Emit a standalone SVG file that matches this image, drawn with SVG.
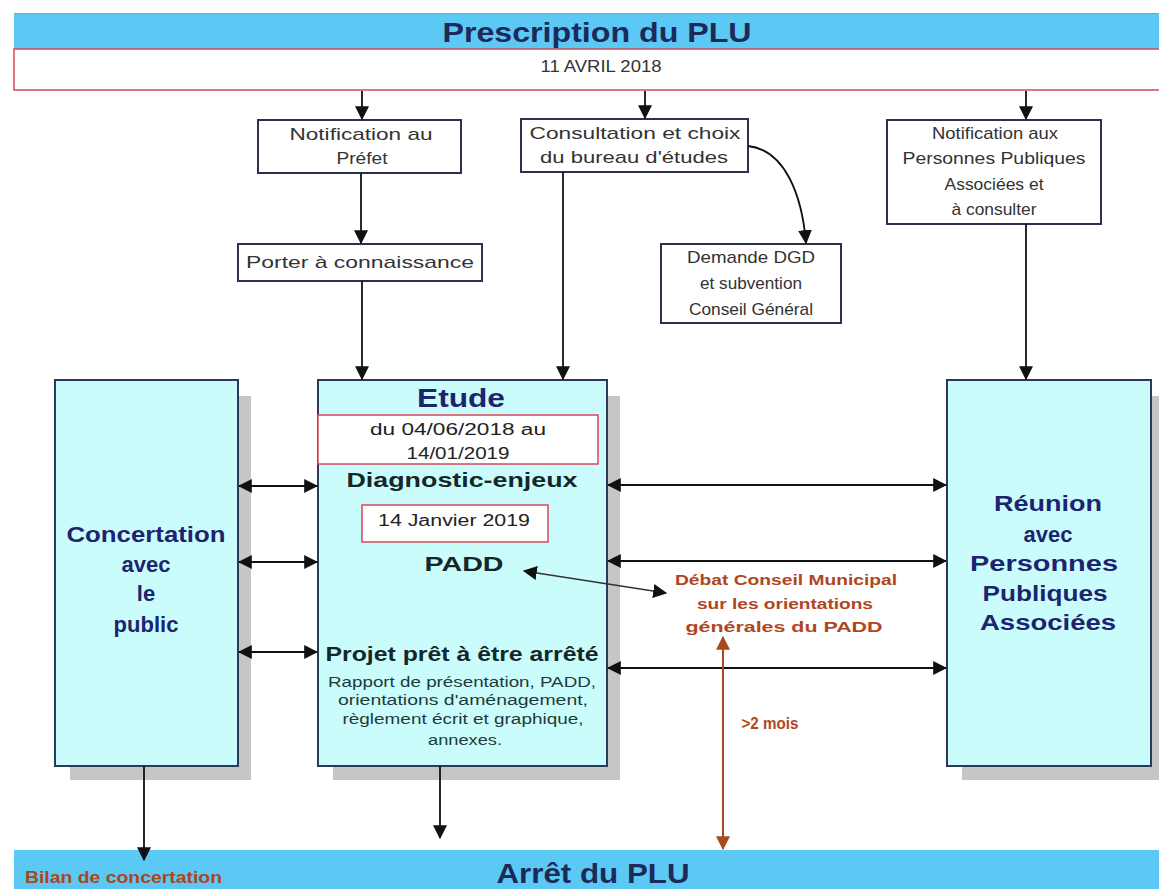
<svg xmlns="http://www.w3.org/2000/svg" width="1159" height="889" viewBox="0 0 1159 889">
<style>
  .band{fill:#5cc8f4;}
  .redbox{fill:#ffffff;stroke:#d24a5a;stroke-width:1.5;}
  .small{fill:#ffffff;stroke:#2e2e4e;stroke-width:2;}
  .big{fill:#cbfcfc;stroke:#2c3a5a;stroke-width:2;}
  .shadow{fill:#c6c6c9;}
  .t{font-family:"Liberation Sans",Arial,sans-serif;text-anchor:middle;}
  .st{font-size:17px;fill:#333333;}
  .nav{font-size:22px;font-weight:bold;fill:#1c2470;}
  .dk{font-weight:bold;fill:#14282a;}
  .br{font-weight:bold;fill:#b0461e;}
  .ln{stroke:#111;stroke-width:1.8;fill:none;}
  .lnb{stroke:#a84a20;stroke-width:2;fill:none;}
</style>
<defs>
  <marker id="ah" viewBox="0 0 12 12" refX="11" refY="6" markerWidth="14" markerHeight="14" markerUnits="userSpaceOnUse" orient="auto-start-reverse">
    <path d="M0,0 L12,6 L0,12 z" fill="#111"/>
  </marker>
  <marker id="ahb" viewBox="0 0 12 12" refX="11" refY="6" markerWidth="14" markerHeight="14" markerUnits="userSpaceOnUse" orient="auto-start-reverse">
    <path d="M0,0 L12,6 L0,12 z" fill="#a84a20"/>
  </marker>
</defs>
<rect width="1159" height="889" fill="#ffffff"/>

<g id="top">
  <rect class="band" x="14" y="13" width="1145" height="36"/>
  <line x1="14" y1="13.5" x2="1159" y2="13.5" stroke="#46bde0" stroke-width="1"/>
  <text class="t" x="597" y="42" font-size="28" font-weight="bold" fill="#1c2a5a" textLength="309" lengthAdjust="spacingAndGlyphs">Prescription du PLU</text>
  <rect class="redbox" x="14" y="49" width="1150" height="41"/>
  <text class="t" x="601" y="72" font-size="17" fill="#333" textLength="121" lengthAdjust="spacingAndGlyphs">11 AVRIL 2018</text>
</g>

<g id="notif-prefet">
  <rect class="small" x="258" y="120" width="203" height="53"/>
  <text class="t st" x="361" y="140" textLength="143" lengthAdjust="spacingAndGlyphs">Notification au</text>
  <text class="t st" x="362" y="164" textLength="51" lengthAdjust="spacingAndGlyphs">Préfet</text>
</g>

<g id="porter">
  <rect class="small" x="238" y="244" width="244" height="37"/>
  <text class="t st" x="360" y="268" textLength="228" lengthAdjust="spacingAndGlyphs">Porter à connaissance</text>
</g>

<g id="consultation">
  <rect class="small" x="521" y="119" width="227" height="53"/>
  <text class="t st" x="635" y="139" textLength="211" lengthAdjust="spacingAndGlyphs">Consultation et choix</text>
  <text class="t st" x="634" y="163" textLength="188" lengthAdjust="spacingAndGlyphs">du bureau d'études</text>
</g>

<g id="demande">
  <rect class="small" x="661" y="244" width="180" height="79"/>
  <text class="t st" x="751" y="263" textLength="128" lengthAdjust="spacingAndGlyphs">Demande DGD</text>
  <text class="t st" x="751" y="289" textLength="102" lengthAdjust="spacingAndGlyphs">et subvention</text>
  <text class="t st" x="751" y="315" textLength="124" lengthAdjust="spacingAndGlyphs">Conseil Général</text>
</g>

<g id="notif-ppa">
  <rect class="small" x="887" y="120" width="214" height="104"/>
  <text class="t st" x="995" y="139" textLength="126" lengthAdjust="spacingAndGlyphs">Notification aux</text>
  <text class="t st" x="994" y="164" textLength="183" lengthAdjust="spacingAndGlyphs">Personnes Publiques</text>
  <text class="t st" x="994" y="190" textLength="99" lengthAdjust="spacingAndGlyphs">Associées et</text>
  <text class="t st" x="994" y="215" textLength="85" lengthAdjust="spacingAndGlyphs">à consulter</text>
</g>

<g id="concertation">
  <rect class="shadow" x="70" y="396" width="181" height="384"/>
  <rect class="big" x="55" y="380" width="183" height="386"/>
  <text class="t nav" x="146" y="542" textLength="159" lengthAdjust="spacingAndGlyphs">Concertation</text>
  <text class="t nav" x="146" y="572">avec</text>
  <text class="t nav" x="146" y="601">le</text>
  <text class="t nav" x="146" y="632">public</text>
</g>

<g id="etude">
  <rect class="shadow" x="333" y="396" width="287" height="384"/>
  <rect class="big" x="318" y="380" width="289" height="386"/>
  <text class="t" x="461" y="407" font-size="25" font-weight="bold" fill="#1c2470" textLength="88" lengthAdjust="spacingAndGlyphs">Etude</text>
  <rect class="redbox" x="318" y="415" width="280" height="49"/>
  <text class="t" x="458" y="435" font-size="16" fill="#222" textLength="176" lengthAdjust="spacingAndGlyphs">du 04/06/2018 au</text>
  <text class="t" x="458" y="459" font-size="16" fill="#222" textLength="103" lengthAdjust="spacingAndGlyphs">14/01/2019</text>
  <text class="t dk" x="462" y="487" font-size="21" textLength="231" lengthAdjust="spacingAndGlyphs">Diagnostic-enjeux</text>
  <rect class="redbox" x="362" y="505" width="186" height="37"/>
  <text class="t" x="454" y="526" font-size="16" fill="#222" textLength="152" lengthAdjust="spacingAndGlyphs">14 Janvier 2019</text>
  <text class="t dk" x="464" y="571" font-size="21" textLength="79" lengthAdjust="spacingAndGlyphs">PADD</text>
  <text class="t dk" x="462" y="661" font-size="21" textLength="273" lengthAdjust="spacingAndGlyphs">Projet prêt à être arrêté</text>
  <text class="t" x="462" y="687" font-size="14" fill="#1e3a3a" textLength="268" lengthAdjust="spacingAndGlyphs">Rapport de présentation, PADD,</text>
  <text class="t" x="463" y="705" font-size="14" fill="#1e3a3a" textLength="250" lengthAdjust="spacingAndGlyphs">orientations d'aménagement,</text>
  <text class="t" x="463" y="724" font-size="14" fill="#1e3a3a" textLength="241" lengthAdjust="spacingAndGlyphs">règlement écrit et graphique,</text>
  <text class="t" x="465" y="745" font-size="14" fill="#1e3a3a" textLength="74" lengthAdjust="spacingAndGlyphs">annexes.</text>
</g>

<g id="reunion">
  <rect class="shadow" x="962" y="396" width="197" height="384"/>
  <rect class="big" x="947" y="380" width="204" height="386"/>
  <text class="t nav" x="1048" y="511" textLength="108" lengthAdjust="spacingAndGlyphs">Réunion</text>
  <text class="t nav" x="1048" y="542">avec</text>
  <text class="t nav" x="1044" y="571" textLength="148" lengthAdjust="spacingAndGlyphs">Personnes</text>
  <text class="t nav" x="1045" y="601" textLength="125" lengthAdjust="spacingAndGlyphs">Publiques</text>
  <text class="t nav" x="1048" y="630" textLength="136" lengthAdjust="spacingAndGlyphs">Associées</text>
</g>

<g id="debat">
  <text class="t br" x="786" y="585" font-size="14" textLength="222" lengthAdjust="spacingAndGlyphs">Débat Conseil Municipal</text>
  <text class="t br" x="785" y="609" font-size="14" textLength="176" lengthAdjust="spacingAndGlyphs">sur les orientations</text>
  <text class="t br" x="784" y="632" font-size="14" textLength="197" lengthAdjust="spacingAndGlyphs">générales du PADD</text>
  <text class="t br" x="770" y="729" font-size="17" textLength="57" lengthAdjust="spacingAndGlyphs">&gt;2 mois</text>
</g>

<g id="bottom">
  <rect class="band" x="14" y="850" width="1145" height="39"/>
  <text class="t" x="593" y="883" font-size="28" font-weight="bold" fill="#1c2a5a" textLength="193" lengthAdjust="spacingAndGlyphs">Arrêt du PLU</text>
  <text x="25" y="883" font-family="Liberation Sans,Arial,sans-serif" font-size="16" font-weight="bold" fill="#a8461e" textLength="197" lengthAdjust="spacingAndGlyphs">Bilan de concertation</text>
</g>

<g id="connectors">
  <line class="ln" x1="362" y1="91" x2="362" y2="119" marker-end="url(#ah)"/>
  <line class="ln" x1="645" y1="91" x2="645" y2="118" marker-end="url(#ah)"/>
  <line class="ln" x1="1026" y1="91" x2="1026" y2="119" marker-end="url(#ah)"/>
  <line class="ln" x1="361" y1="173" x2="361" y2="243" marker-end="url(#ah)"/>
  <line class="ln" x1="362" y1="281" x2="362" y2="379" marker-end="url(#ah)"/>
  <line class="ln" x1="563" y1="172" x2="563" y2="379" marker-end="url(#ah)"/>
  <path class="ln" d="M748,146 C785,150 802,195 806,243" marker-end="url(#ah)"/>
  <line class="ln" x1="1026" y1="224" x2="1026" y2="379" marker-end="url(#ah)"/>

  <line class="ln" x1="239" y1="486" x2="317" y2="486" marker-start="url(#ah)" marker-end="url(#ah)"/>
  <line class="ln" x1="239" y1="562" x2="317" y2="562" marker-start="url(#ah)" marker-end="url(#ah)"/>
  <line class="ln" x1="239" y1="652" x2="317" y2="652" marker-start="url(#ah)" marker-end="url(#ah)"/>

  <line class="ln" x1="608" y1="485" x2="946" y2="485" marker-start="url(#ah)" marker-end="url(#ah)"/>
  <line class="ln" x1="608" y1="561" x2="946" y2="561" marker-start="url(#ah)" marker-end="url(#ah)"/>
  <line class="ln" x1="608" y1="668" x2="946" y2="668" marker-start="url(#ah)" marker-end="url(#ah)"/>

  <line x1="524" y1="571" x2="666" y2="593" stroke="#333" stroke-width="1.3" marker-start="url(#ah)" marker-end="url(#ah)"/>

  <line class="lnb" x1="723" y1="637" x2="723" y2="849" marker-start="url(#ahb)" marker-end="url(#ahb)"/>

  <line class="ln" x1="144" y1="766" x2="144" y2="860" marker-end="url(#ah)"/>
  <line class="ln" x1="440" y1="766" x2="440" y2="838" marker-end="url(#ah)"/>
</g>
</svg>
